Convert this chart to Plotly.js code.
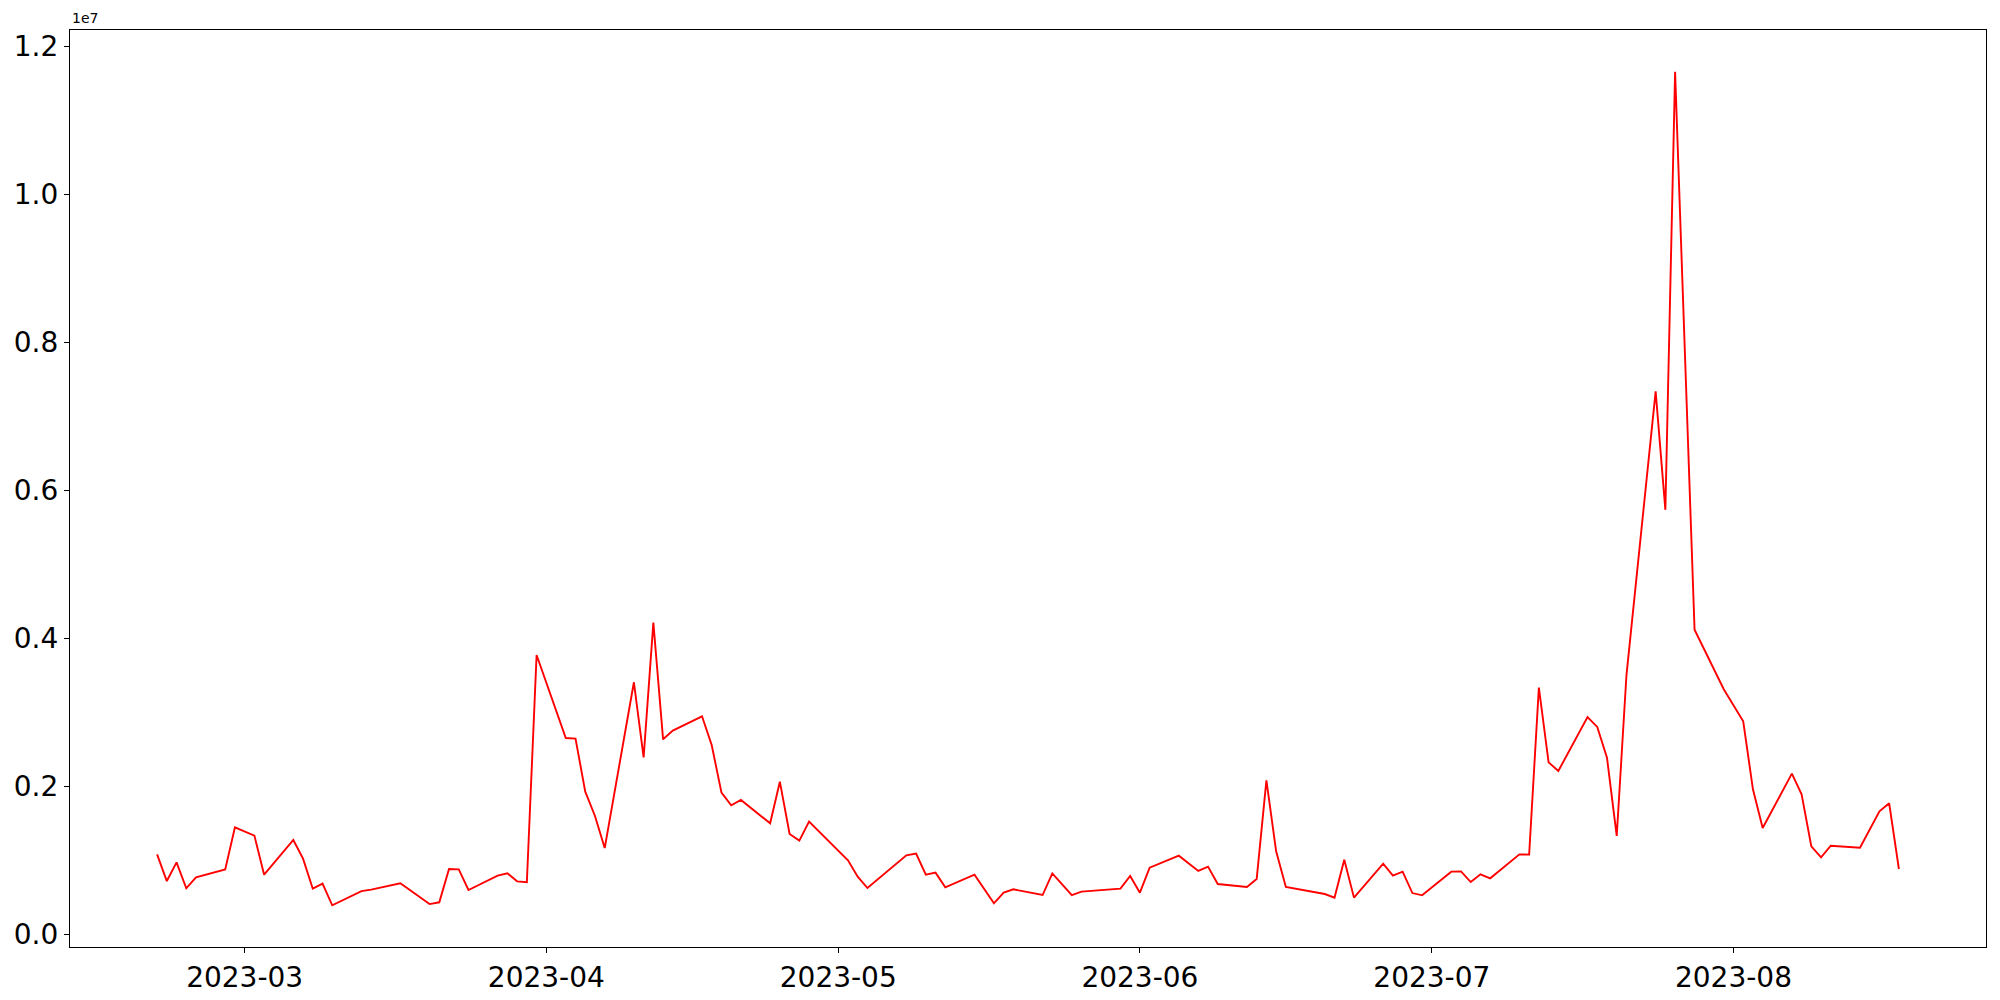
<!DOCTYPE html>
<html>
<head>
<meta charset="utf-8">
<script src="https://cdn.plot.ly/plotly-3.0.1.min.js"></script>
<style>
  html, body { margin: 0; padding: 0; background: #ffffff; }
  #chart { width: 2000px; height: 1000px; }
</style>
</head>
<body>
<div id="chart"></div>
<script>
// Dates of the series
const dates = [
  "2023-02-20","2023-02-21","2023-02-22","2023-02-23","2023-02-24","2023-02-27","2023-02-28",
  "2023-03-02","2023-03-03","2023-03-06","2023-03-07","2023-03-08","2023-03-09","2023-03-10",
  "2023-03-13","2023-03-14","2023-03-17","2023-03-20","2023-03-21","2023-03-22","2023-03-23","2023-03-24",
  "2023-03-27","2023-03-28","2023-03-29","2023-03-30","2023-03-31",
  "2023-04-03","2023-04-04","2023-04-05","2023-04-06","2023-04-07",
  "2023-04-10","2023-04-11","2023-04-12","2023-04-13","2023-04-14",
  "2023-04-17","2023-04-18","2023-04-19","2023-04-20","2023-04-21",
  "2023-04-24","2023-04-25","2023-04-26","2023-04-27","2023-04-28",
  "2023-05-02","2023-05-03","2023-05-04",
  "2023-05-08","2023-05-09","2023-05-10","2023-05-11","2023-05-12",
  "2023-05-15","2023-05-17","2023-05-18","2023-05-19",
  "2023-05-22","2023-05-23","2023-05-25","2023-05-26",
  "2023-05-30","2023-05-31","2023-06-01","2023-06-02",
  "2023-06-05","2023-06-07","2023-06-08","2023-06-09",
  "2023-06-12","2023-06-13","2023-06-14","2023-06-15","2023-06-16",
  "2023-06-20","2023-06-21","2023-06-22","2023-06-23",
  "2023-06-26","2023-06-27","2023-06-28","2023-06-29","2023-06-30",
  "2023-07-03","2023-07-04","2023-07-05","2023-07-06","2023-07-07",
  "2023-07-10","2023-07-11","2023-07-12","2023-07-13","2023-07-14",
  "2023-07-17","2023-07-18","2023-07-19","2023-07-20","2023-07-21",
  "2023-07-24","2023-07-25","2023-07-26","2023-07-28",
  "2023-07-31","2023-08-02","2023-08-03","2023-08-04",
  "2023-08-07","2023-08-08","2023-08-09","2023-08-10","2023-08-11",
  "2023-08-14","2023-08-16","2023-08-17","2023-08-18"
];

// Values of the series
const values = [
  1085000, 724000, 977000, 626000, 774000, 882000, 1450000,
  1338000, 810000, 1279000, 1027000, 621000, 689000, 396000,
  589000, 608000, 693000, 413000, 437000, 887000, 882000, 603000,
  797000, 828000, 720000, 707000, 3779000,
  2657000, 2649000, 1932000, 1603000, 1170000,
  3410000, 2396000, 4216000, 2639000, 2757000,
  2950000, 2558000, 1919000, 1747000, 1819000,
  1504000, 2067000, 1360000, 1270000, 1527000,
  1004000, 784000, 630000,
  1072000, 1094000, 811000, 838000, 639000,
  811000, 423000, 567000, 612000,
  535000, 828000, 535000, 581000,
  621000, 793000, 567000, 905000,
  1067000, 860000, 919000, 684000,
  644000, 752000, 2085000, 1126000, 644000,
  549000, 500000, 1013000, 500000,
  959000, 797000, 851000, 562000, 531000,
  851000, 855000, 711000, 815000, 761000,
  1085000, 1081000, 3338000, 2328000, 2211000,
  2941000, 2806000, 2391000, 1333000, 3504000,
  7340000, 5740000, 11660000, 4120000,
  3315000, 2882000, 1964000, 1441000,
  2175000, 1896000, 1193000, 1045000, 1202000,
  1175000, 1666000, 1774000, 887000
];

// Tick labels
const xTickVals = ["2023-03-01","2023-04-01","2023-05-01","2023-06-01","2023-07-01","2023-08-01"];
const yTickVals = [0, 2000000, 4000000, 6000000, 8000000, 10000000, 12000000];
const yTickText = ["0.0","0.2","0.4","0.6","0.8","1.0","1.2"];
const offsetText = "1e7";

const trace = {
  x: dates,
  y: values,
  type: "scatter",
  mode: "lines",
  line: { color: "#ff0000", width: 1.9 },
  hoverinfo: "x+y"
};

const layout = {
  width: 2000,
  height: 1000,
  margin: { l: 70, r: 14, t: 30, b: 53, pad: 0 },
  paper_bgcolor: "#ffffff",
  plot_bgcolor: "#ffffff",
  font: { family: "DejaVu Sans, sans-serif", color: "#000000", size: 28 },
  showlegend: false,
  xaxis: {
    type: "date",
    range: ["2023-02-11 01:12", "2023-08-26 22:48"],
    tickvals: xTickVals,
    tickformat: "%Y-%m",
    ticks: "outside",
    ticklen: 5,
    tickwidth: 1.1,
    tickcolor: "#000000",
    showline: true,
    linecolor: "#000000",
    linewidth: 1.1,
    mirror: true,
    showgrid: false,
    zeroline: false,
    tickfont: { family: "DejaVu Sans, sans-serif", size: 28, color: "#000000" }
  },
  yaxis: {
    range: [-167000, 12223000],
    tickvals: yTickVals,
    ticktext: yTickText,
    ticks: "outside",
    ticklen: 5,
    tickwidth: 1.1,
    tickcolor: "#000000",
    showline: true,
    linecolor: "#000000",
    linewidth: 1.1,
    mirror: true,
    showgrid: false,
    zeroline: false,
    tickfont: { family: "DejaVu Sans, sans-serif", size: 28, color: "#000000" }
  },
  annotations: [{
    text: offsetText,
    xref: "paper", yref: "paper",
    x: 0, y: 1,
    xanchor: "left", yanchor: "bottom",
    yshift: 2,
    showarrow: false,
    font: { family: "DejaVu Sans, sans-serif", size: 14, color: "#000000" }
  }]
};

Plotly.newPlot("chart", [trace], layout, { displayModeBar: false, staticPlot: true });
</script>
</body>
</html>
